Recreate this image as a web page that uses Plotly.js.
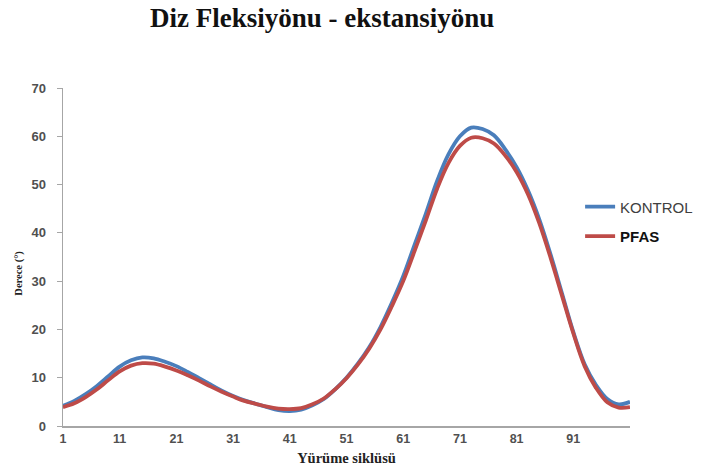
<!DOCTYPE html>
<html><head><meta charset="utf-8">
<script src="https://cdn.plot.ly/plotly-3.0.1.min.js"></script>
<style>html,body{margin:0;padding:0;background:#fff}#chart{width:702px;height:466px}</style>
</head><body><div id="chart"></div>
<script>
const cycleX = [1,3,5,7,9,11,13,15,17,19,21,23,25,27,29,31,33,35,37,39,41,43,45,47,49,51,53,55,57,59,61,63,65,67,69,71,73,75,77,79,81,83,85,87,89,91,93,95,97,99,101];
const kontrol = [4.2,5.2,6.6,8.3,10.3,12.3,13.6,14.2,14.0,13.3,12.4,11.2,9.9,8.6,7.3,6.2,5.3,4.6,3.9,3.3,3.1,3.4,4.3,5.6,7.6,10.0,12.9,16.3,20.5,25.5,31.0,37.5,44.0,50.8,56.3,60.0,61.8,61.5,60.2,57.3,53.6,48.8,42.8,35.5,27.5,19.5,12.8,8.5,5.6,4.5,5.0];
const pfas = [3.9,4.7,6.0,7.6,9.5,11.3,12.5,13.0,12.9,12.3,11.5,10.5,9.4,8.2,7.1,6.1,5.2,4.6,4.0,3.6,3.5,3.7,4.5,5.7,7.6,9.9,12.7,16.0,20.0,24.8,30.0,36.2,42.6,49.2,54.5,58.0,59.7,59.6,58.5,56.0,52.6,48.0,42.0,34.8,27.0,19.2,12.4,7.9,4.9,3.8,3.9];
const xTicks = [1,11,21,31,41,51,61,71,81,91];
const yTicks = [0,10,20,30,40,50,60,70];

const traces = [
  {x: cycleX, y: kontrol, name: '<span style="color:#404040">KONTROL</span>', mode: 'lines', legendgroup: 'a',
   line: {color: '#4a7ebb', width: 3.8, shape: 'spline', smoothing: 1}},
  {x: cycleX, y: pfas, name: '<b>PFAS</b>', mode: 'lines', legendgroup: 'b',
   line: {color: '#be4b48', width: 3.8, shape: 'spline', smoothing: 1}}
];
const layout = {
  width: 702, height: 466,
  margin: {l: 63, r: 72, t: 88, b: 40, autoexpand: false},
  paper_bgcolor: '#fff', plot_bgcolor: '#fff',
  title: {text: '<b>Diz Fleksiyönu - ekstansiyönu</b>', x: 0.459, xanchor: 'center', y: 0.962, yanchor: 'middle',
          font: {family: 'Liberation Serif', size: 27, color: '#111'}},
  xaxis: {range: [1, 101], tickvals: xTicks, ticktext: xTicks.map(String), showgrid: false, zeroline: false,
          showline: true, linecolor: '#a6a6a6', linewidth: 1.5, ticks: '', ticklen: 0,
          tickfont: {family: 'Liberation Sans', size: 12.5, color: '#505050', weight: 'bold'},
          title: {text: '<b>Yürüme siklüsü</b>', standoff: 9, font: {family: 'Liberation Serif', size: 14.5, color: '#222'}}},
  yaxis: {range: [0, 70], tickvals: yTicks, showgrid: false, zeroline: false,
          showline: true, linecolor: '#a6a6a6', linewidth: 1.5, ticks: 'outside', ticklen: 5, tickcolor: '#a6a6a6',
          ticklabelstandoff: 8,
          tickfont: {family: 'Liberation Sans', size: 13, color: '#505050', weight: 'bold'}},
  annotations: [{text: '<b>Derece (°)</b>', xref: 'paper', yref: 'paper', x: -0.078, y: 0.453,
                 xanchor: 'center', yanchor: 'middle', textangle: -90, showarrow: false,
                 font: {family: 'Liberation Serif', size: 10.5, color: '#222'}}],
  showlegend: true,
  legend: {x: 0.912, xanchor: 'left', y: 0.697, yanchor: 'top', bgcolor: 'rgba(0,0,0,0)', traceorder: 'grouped',
           font: {family: 'Liberation Sans', size: 15, color: '#111'}, itemwidth: 30, tracegroupgap: 7}
};
Plotly.newPlot('chart', traces, layout, {displayModeBar: false, staticPlot: true});
</script></body></html>
